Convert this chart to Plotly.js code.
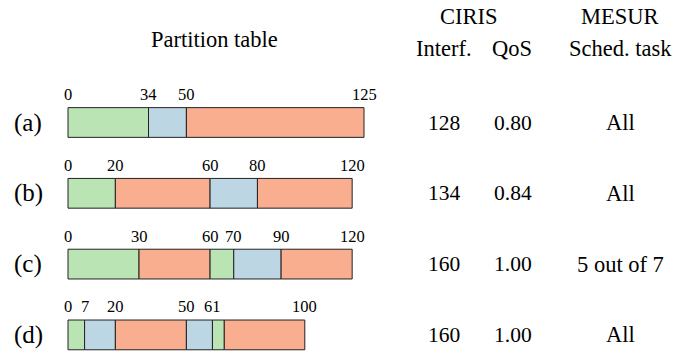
<!DOCTYPE html>
<html>
<head>
<meta charset="utf-8">
<script src="https://cdn.plot.ly/plotly-3.0.1.min.js"></script>
<style>html,body{margin:0;padding:0;background:#fff;}#chart{width:694px;height:356px;}</style>
</head>
<body>
<div id="chart"></div>
<script>
// ---- data ----
var rows = ['(a)', '(b)', '(c)', '(d)'];
var segStart_a = [0, 34, 50];          var segEnd_a = [34, 50, 125];        var segType_a = ['g', 'b', 's'];
var segStart_b = [0, 20, 60, 80];      var segEnd_b = [20, 60, 80, 120];    var segType_b = ['g', 's', 'b', 's'];
var segStart_c = [0, 30, 60, 70, 90];  var segEnd_c = [30, 60, 70, 90, 120]; var segType_c = ['g', 's', 'g', 'b', 's'];
var segStart_d = [0, 7, 20, 50, 61, 66]; var segEnd_d = [7, 20, 50, 61, 66, 100]; var segType_d = ['g', 'b', 's', 'b', 'g', 's'];
var ticks_a = [0, 34, 50, 125];
var ticks_b = [0, 20, 60, 80, 120];
var ticks_c = [0, 30, 60, 70, 90, 120];
var ticks_d = [0, 7, 20, 50, 61, 100];
var interf = [128, 134, 160, 160];
var qos = ['0.80', '0.84', '1.00', '1.00'];
var sched = ['All', 'All', '5 out of 7', 'All'];

// ---- styling ----
var colors = {g: '#bbe4b5', b: '#bdd6e4', s: '#f9ae90'};
var FONT = 'Liberation Serif, Times New Roman, serif';

var starts = [segStart_a, segStart_b, segStart_c, segStart_d];
var ends = [segEnd_a, segEnd_b, segEnd_c, segEnd_d];
var types = [segType_a, segType_b, segType_c, segType_d];
var ticks = [ticks_a, ticks_b, ticks_c, ticks_d];

var traces = [];
rows.forEach(function (r, i) {
  var st = starts[i], en = ends[i], ty = types[i];
  traces.push({
    type: 'bar', orientation: 'h',
    y: st.map(function () { return r; }),
    base: st,
    x: st.map(function (s, k) { return en[k] - s; }),
    width: 0.42,
    marker: {color: ty.map(function (t) { return colors[t]; }), line: {color: '#222', width: 1}},
    hoverinfo: 'skip', showlegend: false
  });
});

var ann = [];
rows.forEach(function (r, i) {
  ann.push({xref: 'paper', yref: 'y', x: 28 / 694, y: r, text: r, showarrow: false,
    xanchor: 'center', yanchor: 'middle', font: {family: FONT, size: 25, color: '#000'}});
  ticks[i].forEach(function (v) {
    ann.push({xref: 'x', yref: 'y', x: v, y: r, text: String(v), showarrow: false,
      xanchor: 'center', yanchor: 'middle', yshift: 28, font: {family: FONT, size: 16.5, color: '#000'}});
  });
  ann.push({xref: 'paper', yref: 'y', x: 444 / 694, y: r, text: String(interf[i]), showarrow: false,
    xanchor: 'center', yanchor: 'middle', font: {family: FONT, size: 21.5, color: '#000'}});
  ann.push({xref: 'paper', yref: 'y', x: 513 / 694, y: r, text: qos[i], showarrow: false,
    xanchor: 'center', yanchor: 'middle', font: {family: FONT, size: 21.5, color: '#000'}});
  ann.push({xref: 'paper', yref: 'y', x: 620 / 694, y: r, text: sched[i], showarrow: false,
    xanchor: 'center', yanchor: 'middle', font: {family: FONT, size: 22.5, color: '#000'}});
});
var headers = [
  {t: 'Partition table', x: 214, y: 39},
  {t: 'CIRIS', x: 469, y: 16},
  {t: 'MESUR', x: 620, y: 16},
  {t: 'Interf.', x: 444, y: 49},
  {t: 'QoS', x: 512, y: 49},
  {t: 'Sched. task', x: 620, y: 49}
];
headers.forEach(function (h) {
  ann.push({xref: 'paper', yref: 'paper', x: h.x / 694, y: 1 - h.y / 356, text: h.t, showarrow: false,
    xanchor: 'center', yanchor: 'middle', font: {family: FONT, size: 22.5, color: '#000'}});
});

var pxPerUnit = (364 - 68) / 125;
var x0 = -68 / pxPerUnit, x1 = x0 + 694 / pxPerUnit;
var rowStep = 70.8, rowTop = 122.5;
var yTop = -rowTop / rowStep, yBot = (356 - rowTop) / rowStep;

var layout = {
  width: 694, height: 356,
  margin: {l: 0, r: 0, t: 0, b: 0},
  paper_bgcolor: '#fff', plot_bgcolor: '#fff',
  barmode: 'overlay',
  xaxis: {range: [x0, x1], visible: false, fixedrange: true},
  yaxis: {type: 'category', categoryorder: 'array', categoryarray: rows, range: [yBot, yTop], visible: false, fixedrange: true},
  annotations: ann,
  font: {family: FONT}
};
Plotly.newPlot('chart', traces, layout, {displayModeBar: false, staticPlot: true});
</script>
</body>
</html>
